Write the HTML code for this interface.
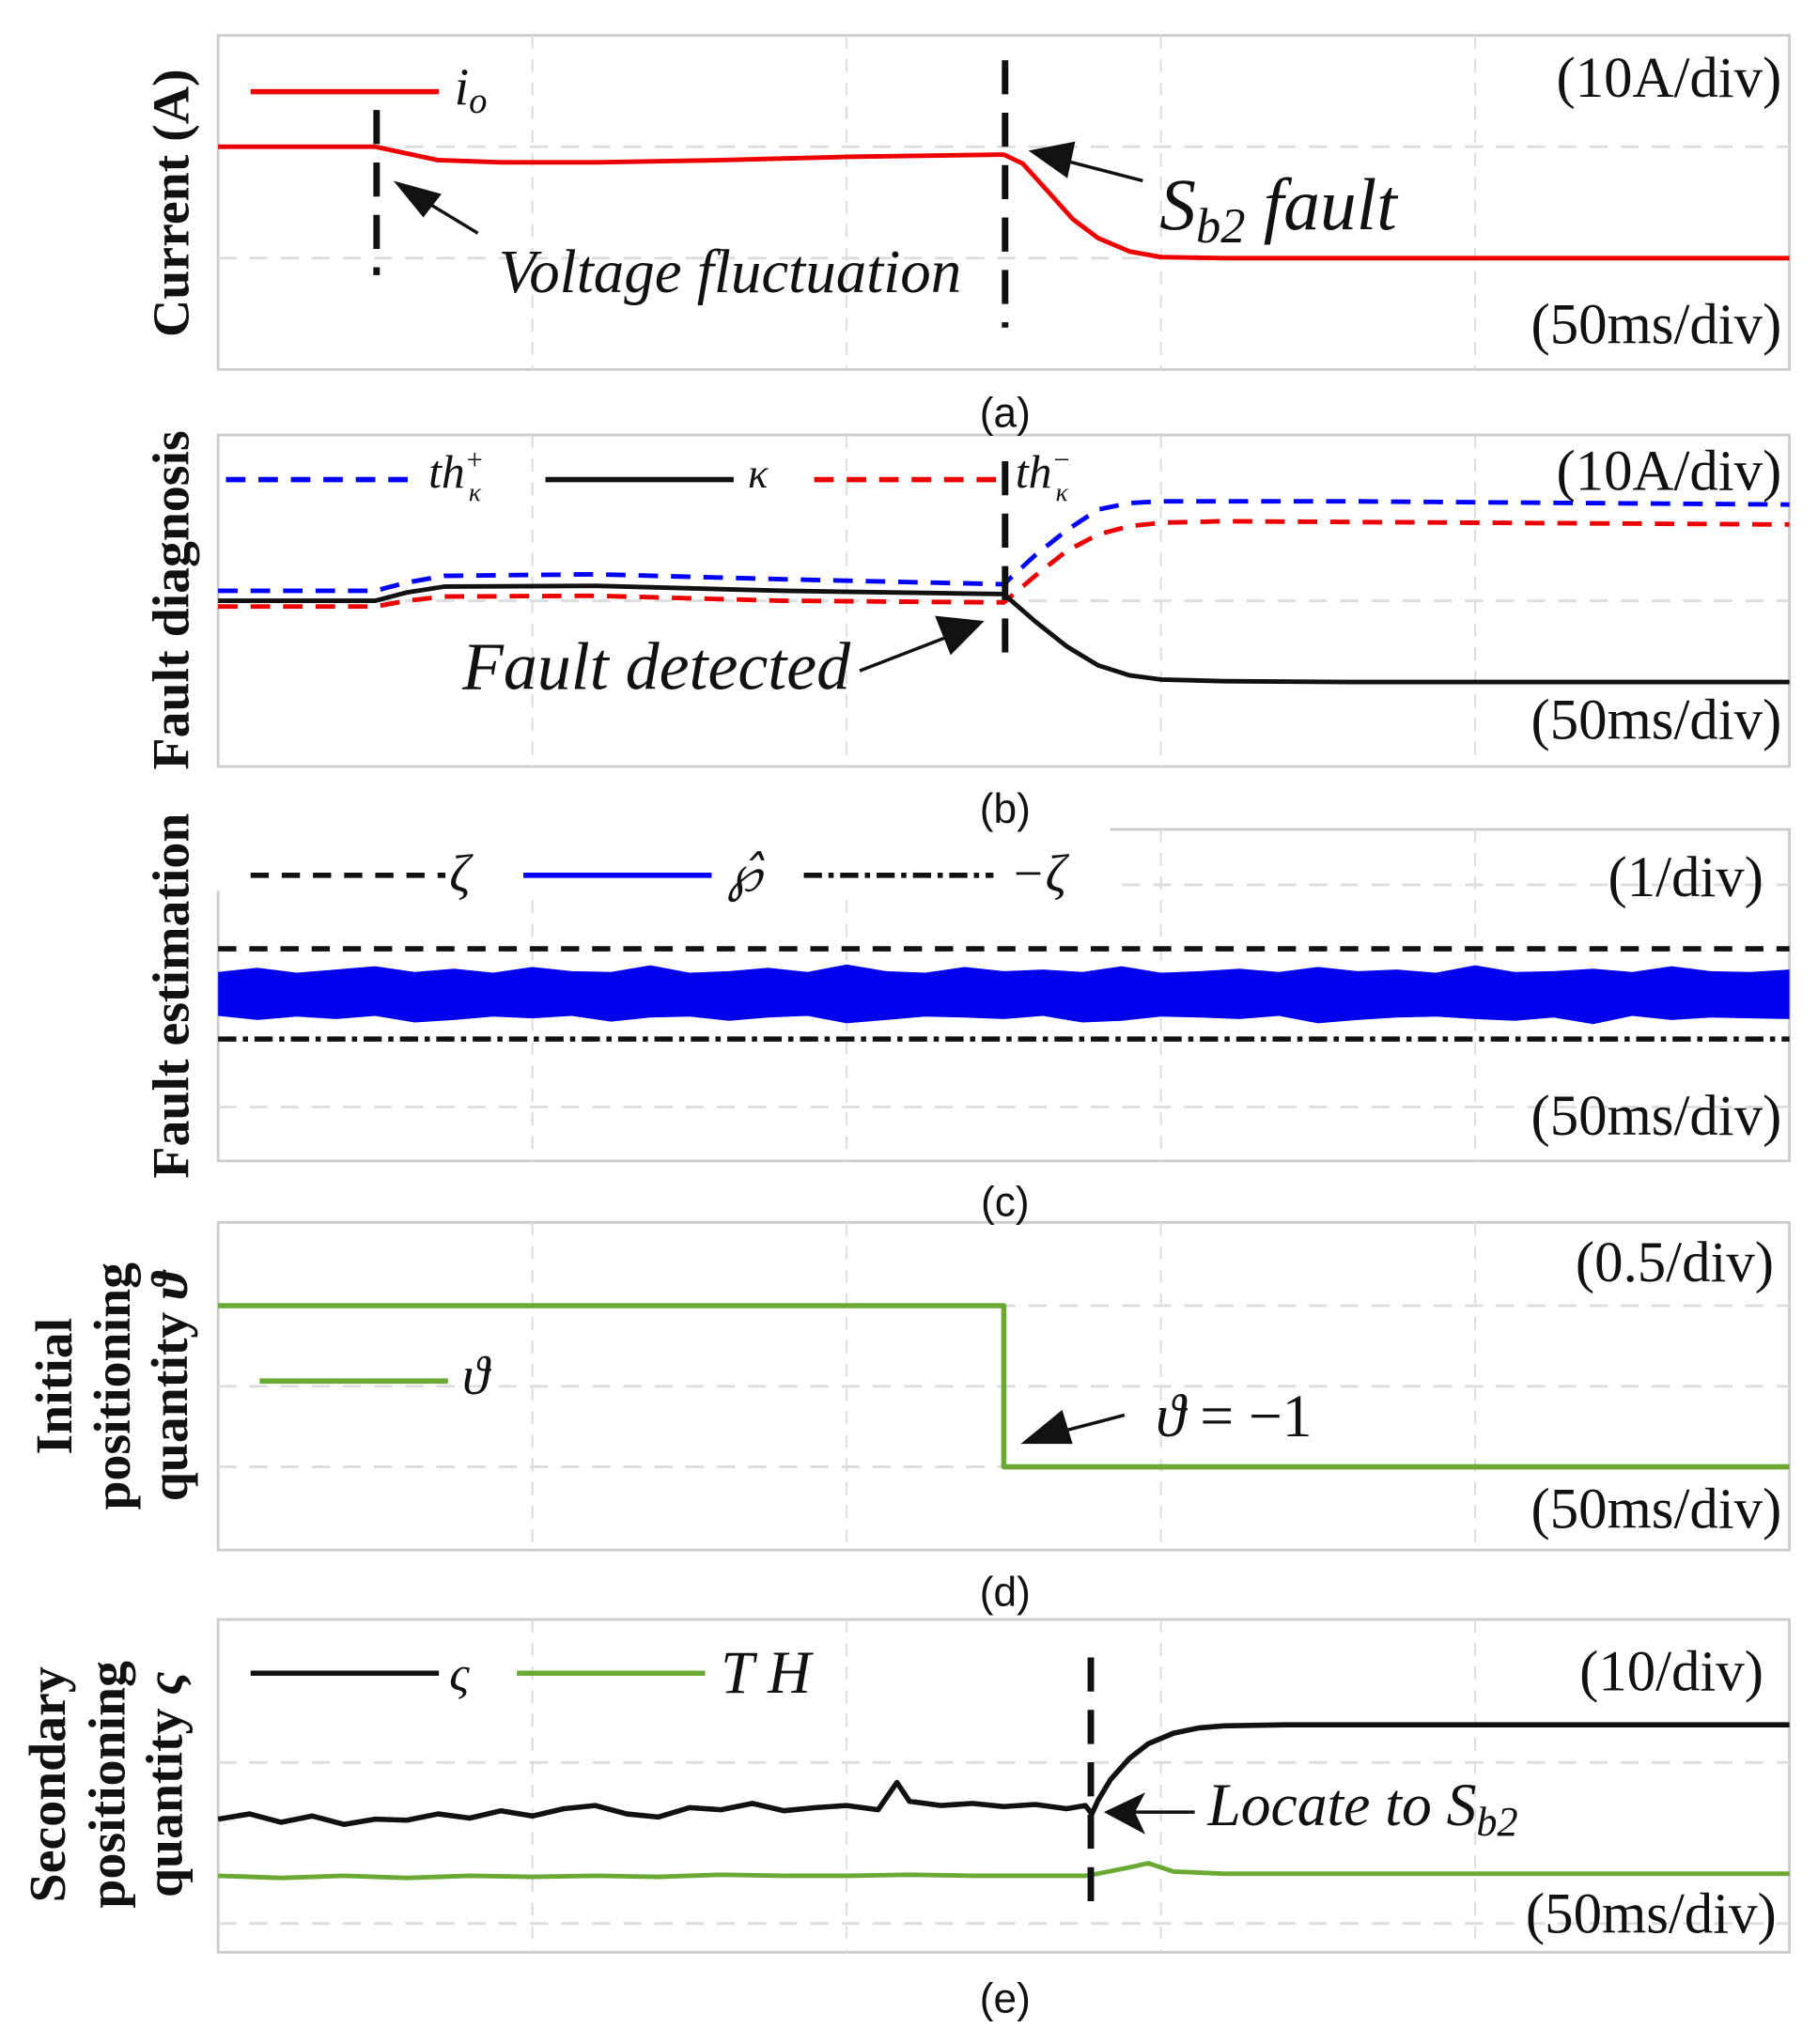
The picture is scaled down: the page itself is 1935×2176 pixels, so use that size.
<!DOCTYPE html>
<html><head><meta charset="utf-8">
<style>
html,body{margin:0;padding:0;background:#fff;}
svg{display:block;}
.lab{font-family:"Liberation Serif",serif;font-size:44px;fill:#111;}
.ital{font-family:"Liberation Serif",serif;font-style:italic;fill:#111;}
.cap{font-family:"Liberation Sans",sans-serif;font-size:32px;fill:#111;}
.ylab{font-family:"Liberation Serif",serif;font-weight:bold;font-size:40px;fill:#111;}
</style></head>
<body>
<svg id="chart" width="1935" height="2176" viewBox="0 0 1400 1560" preserveAspectRatio="none" xmlns="http://www.w3.org/2000/svg">
<g id="frames"></g>
<g id="marks"></g>
<g id="annot">
  <!-- panel a -->
  <text class="ylab" transform="translate(145,155) rotate(-90)" text-anchor="middle">Current (A)</text>
  <text class="lab" x="1372" y="74" text-anchor="end">(10A/div)</text>
  <text class="lab" x="1372" y="262" text-anchor="end">(50ms/div)</text>
  <line x1="193" y1="70" x2="338" y2="70" stroke="#e00" stroke-width="4"/>
  <text class="ital" x="350" y="80" font-size="40">i<tspan font-size="28" dy="6">o</tspan></text>
  <line x1="290" y1="84" x2="290" y2="210" stroke="#111" stroke-width="5" stroke-dasharray="26,14"/>
  <line x1="774" y1="46" x2="774" y2="250" stroke="#111" stroke-width="5" stroke-dasharray="26,14"/>
  <line x1="368" y1="178" x2="318" y2="148" stroke="#111" stroke-width="2.5"/>
  <polygon points="303,138 340,148 326,166" fill="#111"/>
  <text class="ital" x="384" y="223" font-size="47">Voltage fluctuation</text>
  <line x1="880" y1="138" x2="810" y2="120" stroke="#111" stroke-width="2.5"/>
  <polygon points="792,115 828,108 822,136" fill="#111"/>
  <text class="ital" x="893" y="175" font-size="56">S<tspan font-size="38" dy="10">b2</tspan><tspan dy="-10"> fault</tspan></text>
  <text class="cap" x="774" y="326" text-anchor="middle">(a)</text>

  <!-- panel b -->
  <text class="ylab" transform="translate(145,458) rotate(-90)" text-anchor="middle">Fault diagnosis</text>
  <text class="lab" x="1372" y="374" text-anchor="end">(10A/div)</text>
  <text class="lab" x="1372" y="564" text-anchor="end">(50ms/div)</text>
  <line x1="174" y1="366" x2="320" y2="366" stroke="#00f" stroke-width="4" stroke-dasharray="15,10"/>
  <text class="ital" x="330" y="372" font-size="36">th<tspan font-size="22" dy="-14">+</tspan><tspan font-size="20" dx="-12" dy="24">κ</tspan></text>
  <line x1="420" y1="366" x2="565" y2="366" stroke="#111" stroke-width="4"/>
  <text class="ital" x="576" y="372" font-size="32">κ</text>
  <line x1="627" y1="366" x2="772" y2="366" stroke="#e00" stroke-width="4" stroke-dasharray="15,10"/>
  <text class="ital" x="782" y="372" font-size="36">th<tspan font-size="22" dy="-14">−</tspan><tspan font-size="20" dx="-12" dy="24">κ</tspan></text>
  <line x1="774" y1="352" x2="774" y2="505" stroke="#111" stroke-width="5" stroke-dasharray="26,14"/>
  <text class="ital" x="356" y="526" font-size="52">Fault detected</text>
  <line x1="662" y1="512" x2="735" y2="484" stroke="#111" stroke-width="2.5"/>
  <polygon points="758,474 720,470 732,500" fill="#111"/>
  <text class="cap" x="774" y="628" text-anchor="middle">(b)</text>

  <!-- panel c -->
  <text class="ylab" transform="translate(145,760) rotate(-90)" text-anchor="middle">Fault estimation</text>
  <text class="lab" x="1358" y="684" text-anchor="end">(1/div)</text>
  <text class="lab" x="1372" y="866" text-anchor="end">(50ms/div)</text>
  <line x1="193" y1="668" x2="343" y2="668" stroke="#111" stroke-width="4" stroke-dasharray="14,10"/>
  <text class="ital" x="346" y="680" font-size="40">ζ</text>
  <line x1="403" y1="668" x2="548" y2="668" stroke="#00f" stroke-width="4"/>
  <text class="ital" x="560" y="680" font-size="38">℘̂</text>
  <line x1="619" y1="668" x2="765" y2="668" stroke="#111" stroke-width="4" stroke-dasharray="14,5,4,5"/>
  <text class="ital" x="778" y="680" font-size="40">−ζ</text>
  <text class="cap" x="774" y="928" text-anchor="middle">(c)</text>

  <!-- panel d -->
  <text class="ylab" transform="translate(55,1058) rotate(-90)" text-anchor="middle">Initial</text>
  <text class="ylab" transform="translate(100,1058) rotate(-90)" text-anchor="middle">positioning</text>
  <text class="ylab" transform="translate(144,1058) rotate(-90)" text-anchor="middle">quantity <tspan font-style="italic">ϑ</tspan></text>
  <text class="lab" x="1366" y="978" text-anchor="end">(0.5/div)</text>
  <text class="lab" x="1372" y="1166" text-anchor="end">(50ms/div)</text>
  <line x1="200" y1="1054" x2="345" y2="1054" stroke="#6aaa34" stroke-width="4"/>
  <text class="ital" x="356" y="1064" font-size="42">ϑ</text>
  <line x1="866" y1="1080" x2="808" y2="1095" stroke="#111" stroke-width="2.5"/>
  <polygon points="786,1102 818,1076 826,1102" fill="#111"/>
  <text class="ital" x="890" y="1096" font-size="46">ϑ <tspan font-style="normal">= −1</tspan></text>
  <text class="cap" x="774" y="1226" text-anchor="middle">(d)</text>

  <!-- panel e -->
  <text class="ylab" transform="translate(50,1362) rotate(-90)" text-anchor="middle">Secondary</text>
  <text class="ylab" transform="translate(96,1362) rotate(-90)" text-anchor="middle">positioning</text>
  <text class="ylab" transform="translate(140,1362) rotate(-90)" text-anchor="middle">quantity <tspan font-style="italic">ς</tspan></text>
  <text class="lab" x="1358" y="1290" text-anchor="end">(10/div)</text>
  <text class="lab" x="1368" y="1475" text-anchor="end">(50ms/div)</text>
  <line x1="193" y1="1277" x2="338" y2="1277" stroke="#111" stroke-width="4"/>
  <text class="ital" x="346" y="1290" font-size="38">ς</text>
  <line x1="398" y1="1277" x2="543" y2="1277" stroke="#6aaa34" stroke-width="4"/>
  <text class="ital" x="555" y="1292" font-size="46">T H</text>
  <line x1="840" y1="1265" x2="840" y2="1460" stroke="#111" stroke-width="5" stroke-dasharray="26,14"/>
  <line x1="920" y1="1383" x2="868" y2="1383" stroke="#111" stroke-width="2.5"/>
  <polygon points="850,1383 882,1368 874,1383 882,1400" fill="#111"/>
  <text class="ital" x="930" y="1393" font-size="46">Locate to S<tspan font-size="32" dy="8">b2</tspan></text>
  <text class="cap" x="774" y="1536" text-anchor="middle">(e)</text>
</g>
<script>
// time axis (ms)
const timeTicks = [0, 50, 100, 150, 200, 250];
// panel a: output current io (divisions above bottom)
const ioTime = [0, 25, 30, 35, 45, 60, 80, 100, 125, 128, 132, 136, 140, 145, 150, 160, 180, 250];
const ioValue = [2.0, 2.0, 1.94, 1.88, 1.86, 1.86, 1.88, 1.91, 1.93, 1.85, 1.6, 1.35, 1.18, 1.06, 1.01, 1.0, 1.0, 1.0];
// panel b: thresholds and kappa
const bTime = [0, 25, 30, 36, 60, 90, 125, 130, 135, 140, 145, 150, 160, 180, 250];
const thPlus = [2.12, 2.12, 2.22, 2.3, 2.32, 2.26, 2.2, 2.55, 2.85, 3.1, 3.18, 3.2, 3.2, 3.2, 3.16];
const kappa = [2.0, 2.0, 2.1, 2.17, 2.18, 2.12, 2.08, 1.75, 1.45, 1.22, 1.1, 1.05, 1.03, 1.02, 1.02];
const thMinus = [1.93, 1.93, 2.0, 2.05, 2.06, 2.0, 1.98, 2.3, 2.6, 2.8, 2.9, 2.94, 2.96, 2.95, 2.92];
// panel c: fault estimation
const zetaLevel = 2.56;
const negZetaLevel = 1.47;
const rhoUpper = [2.28,2.33,2.27,2.31,2.35,2.28,2.32,2.27,2.34,2.29,2.28,2.36,2.27,2.29,2.33,2.28,2.37,2.29,2.27,2.34,2.29,2.31,2.28,2.35,2.27,2.29,2.32,2.28,2.34,2.29,2.31,2.27,2.36,2.28,2.29,2.32,2.28,2.35,2.29,2.28,2.31];
const rhoLower = [1.75,1.7,1.74,1.71,1.75,1.67,1.7,1.74,1.72,1.75,1.68,1.73,1.74,1.69,1.73,1.75,1.66,1.7,1.74,1.73,1.71,1.75,1.67,1.69,1.74,1.73,1.71,1.75,1.66,1.7,1.73,1.74,1.71,1.69,1.73,1.65,1.75,1.7,1.73,1.72,1.71];
// panel d: theta
const thetaTime = [0, 125, 125, 250];
const thetaValue = [1, 1, -1, -1];
// panel e: varsigma and TH
const sigTime = [0,5,10,15,20,25,30,35,40,45,50,55,60,65,70,75,80,85,90,95,100,105,108,110,115,120,125,130,135,138,139,140,142,145,148,152,156,160,170,185,250];
const sigValue = [1.27,1.32,1.24,1.3,1.22,1.27,1.26,1.32,1.28,1.35,1.3,1.37,1.4,1.32,1.29,1.38,1.36,1.42,1.35,1.38,1.4,1.36,1.62,1.44,1.4,1.42,1.39,1.41,1.37,1.4,1.32,1.45,1.65,1.85,1.99,2.09,2.14,2.16,2.17,2.17,2.17];
const thTime = [0,10,20,30,40,50,60,70,80,90,100,110,120,130,138,140,145,148,152,160,200,240,250];
const thValue = [0.73,0.71,0.73,0.71,0.73,0.72,0.73,0.72,0.74,0.73,0.73,0.74,0.73,0.73,0.73,0.75,0.81,0.85,0.77,0.75,0.75,0.75,0.75];

const NS = "http://www.w3.org/2000/svg";
const frames = document.getElementById('frames');
const marks = document.getElementById('marks');
const X0 = 168, X1 = 1378;
function xScale(t){ return X0 + (t / 250) * (X1 - X0); }
function mk(tag, attrs, parent){
  const e = document.createElementNS(NS, tag);
  for (const k in attrs) e.setAttribute(k, attrs[k]);
  parent.appendChild(e);
  return e;
}
const panels = [
  {id:'a', top:27, bottom:282, ppu:85, grid:[1,2]},
  {id:'b', top:332, bottom:585, ppu:63.25, grid:[2]},
  {id:'c', top:633, bottom:886, ppu:63.25, grid:[0.65, 3.33]},
  {id:'d', top:933, bottom:1183, ppu:61.5, base:1058, grid:[-1,0,1]},
  {id:'e', top:1236, bottom:1490, ppu:80, grid:[0.275, 1.81]}
];
function yScale(p, v){ return (p.base !== undefined ? p.base : p.bottom) - v * p.ppu; }
panels.forEach(p => {
  const r = mk('rect', {x:X0, y:p.top, width:X1-X0, height:p.bottom-p.top, fill:'#fff', stroke:'#ccc', 'stroke-width':2}, frames);
  
  
  timeTicks.slice(1, -1).forEach(t => {
    const l = mk('line', {x1:xScale(t), x2:xScale(t), y1:p.top, y2:p.bottom, stroke:'#ddd', 'stroke-width':1.5, 'stroke-dasharray':'10,8'}, frames);
    
    
  });
  p.grid.forEach(g => {
    const l = mk('line', {x1:X0, x2:X1, y1:yScale(p,g), y2:yScale(p,g), stroke:'#ddd', 'stroke-width':2, 'stroke-dasharray':'14,10'}, frames);
    
    
  });
});
const lb = mk('rect', {x:150, y:620, width:705, height:60, fill:'#fff'}, frames);



function line(p, ts, vs, style, name){
  const pts = ts.map((t,i) => xScale(t).toFixed(1) + ',' + yScale(p, vs[i]).toFixed(1)).join(' ');
  const e = mk('polyline', Object.assign({points:pts, fill:'none', 'stroke-linejoin':'round'}, style), marks);
  
  
  return e;
}
const P = {}; panels.forEach(p => P[p.id] = p);
line(P.a, ioTime, ioValue, {stroke:'#e00', 'stroke-width':3.5}, 'io-current-line');
line(P.b, bTime, thPlus, {stroke:'#00f', 'stroke-width':3.5, 'stroke-dasharray':'15,10'}, 'th-plus-line');
line(P.b, bTime, thMinus, {stroke:'#e00', 'stroke-width':3.5, 'stroke-dasharray':'15,10'}, 'th-minus-line');
line(P.b, bTime, kappa, {stroke:'#111', 'stroke-width':3.5}, 'kappa-line');
line(P.c, [0,250], [zetaLevel, zetaLevel], {stroke:'#111', 'stroke-width':4, 'stroke-dasharray':'14,10'}, 'zeta-line');
line(P.c, [0,250], [negZetaLevel, negZetaLevel], {stroke:'#111', 'stroke-width':4, 'stroke-dasharray':'14,5,4,5'}, 'neg-zeta-line');
(function(){
  const p = P.c, n = rhoUpper.length;
  const up = rhoUpper.map((v,i) => xScale(i*250/(n-1)).toFixed(1) + ',' + yScale(p, v).toFixed(1));
  const lo = rhoLower.map((v,i) => xScale(i*250/(n-1)).toFixed(1) + ',' + yScale(p, v).toFixed(1)).reverse();
  const e = mk('polygon', {points: up.concat(lo).join(' '), fill:'#0000ee'}, marks);
  
  
})();
line(P.d, thetaTime, thetaValue, {stroke:'#6aaa34', 'stroke-width':4}, 'theta-line');
line(P.e, thTime, thValue, {stroke:'#6aaa34', 'stroke-width':3.5}, 'th-line');
line(P.e, sigTime, sigValue, {stroke:'#111', 'stroke-width':4}, 'varsigma-line');
</script>
</svg>
</body></html>
